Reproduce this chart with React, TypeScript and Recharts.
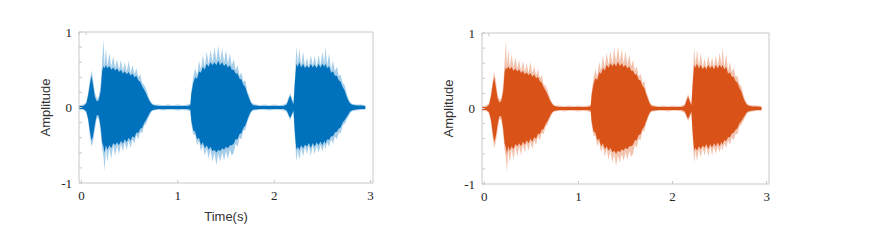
import { AreaChart, Area, XAxis, YAxis } from "recharts";

const TIME = [
  -0.025, 0.02, 0.05, 0.07, 0.09, 0.105, 0.12, 0.14, 0.16, 0.18,
  0.2, 0.215, 0.23, 0.24, 0.255, 0.27, 0.29, 0.31, 0.33, 0.35,
  0.37, 0.39, 0.41, 0.43, 0.45, 0.47, 0.49, 0.51, 0.53, 0.55,
  0.57, 0.59, 0.61, 0.63, 0.65, 0.67, 0.69, 0.71, 0.73, 0.75,
  0.8, 0.85, 0.9, 0.95, 1.0, 1.05, 1.1, 1.13, 1.14, 1.16,
  1.18, 1.2, 1.22, 1.24, 1.26, 1.28, 1.3, 1.32, 1.34, 1.36,
  1.38, 1.4, 1.42, 1.44, 1.46, 1.48, 1.5, 1.52, 1.54, 1.56,
  1.58, 1.6, 1.62, 1.64, 1.66, 1.68, 1.7, 1.72, 1.74, 1.76,
  1.78, 1.85, 1.9, 1.95, 2.0, 2.05, 2.1, 2.13, 2.15, 2.165,
  2.18, 2.2, 2.215, 2.23, 2.245, 2.26, 2.28, 2.3, 2.32, 2.34,
  2.36, 2.38, 2.4, 2.42, 2.44, 2.46, 2.48, 2.5, 2.52, 2.53,
  2.55, 2.57, 2.59, 2.61, 2.63, 2.65, 2.67, 2.69, 2.71, 2.73,
  2.75, 2.77, 2.79, 2.81, 2.85, 2.9, 2.945,
];

// outer (light) spikes of the waveform
const PEAK_HI = [
  0.03, 0.04, 0.07, 0.2, 0.38, 0.49, 0.38, 0.2, 0.12, 0.14,
  0.3, 0.62, 0.9, 0.56, 0.78, 0.55, 0.72, 0.54, 0.68, 0.53,
  0.64, 0.5, 0.63, 0.49, 0.6, 0.47, 0.62, 0.46, 0.56, 0.44,
  0.52, 0.4, 0.44, 0.32, 0.3, 0.25, 0.17, 0.1, 0.06, 0.04,
  0.04, 0.03, 0.04, 0.03, 0.04, 0.03, 0.04, 0.05, 0.22, 0.4,
  0.52, 0.42, 0.62, 0.5, 0.7, 0.54, 0.74, 0.58, 0.76, 0.6,
  0.8, 0.62, 0.82, 0.62, 0.78, 0.6, 0.76, 0.58, 0.72, 0.56,
  0.64, 0.5, 0.56, 0.42, 0.46, 0.34, 0.36, 0.22, 0.16, 0.08,
  0.05, 0.03, 0.04, 0.03, 0.04, 0.03, 0.04, 0.06, 0.14, 0.19,
  0.14, 0.05, 0.4, 0.81, 0.58, 0.78, 0.56, 0.74, 0.54, 0.66,
  0.54, 0.7, 0.56, 0.68, 0.54, 0.7, 0.56, 0.74, 0.58, 0.81,
  0.56, 0.72, 0.5, 0.62, 0.48, 0.54, 0.42, 0.43, 0.32, 0.3,
  0.2, 0.12, 0.07, 0.05, 0.04, 0.04, 0.03,
];

const PEAK_LO = [
  -0.03, -0.03, -0.07, -0.18, -0.4, -0.52, -0.46, -0.3, -0.14, -0.15,
  -0.34, -0.55, -0.66, -0.84, -0.55, -0.72, -0.54, -0.68, -0.5, -0.64,
  -0.5, -0.62, -0.48, -0.58, -0.46, -0.56, -0.44, -0.54, -0.42, -0.48,
  -0.36, -0.42, -0.32, -0.34, -0.24, -0.22, -0.15, -0.1, -0.05, -0.04,
  -0.03, -0.04, -0.03, -0.03, -0.04, -0.03, -0.04, -0.05, -0.22, -0.36,
  -0.36, -0.5, -0.44, -0.58, -0.5, -0.64, -0.54, -0.68, -0.56, -0.72,
  -0.6, -0.76, -0.62, -0.72, -0.6, -0.7, -0.58, -0.68, -0.56, -0.64,
  -0.6, -0.48, -0.52, -0.4, -0.42, -0.3, -0.3, -0.2, -0.13, -0.07,
  -0.04, -0.03, -0.03, -0.04, -0.03, -0.03, -0.04, -0.06, -0.12, -0.17,
  -0.12, -0.06, -0.4, -0.72, -0.56, -0.7, -0.54, -0.65, -0.52, -0.62,
  -0.5, -0.64, -0.5, -0.62, -0.5, -0.6, -0.5, -0.58, -0.48, -0.56,
  -0.46, -0.52, -0.42, -0.48, -0.38, -0.42, -0.33, -0.34, -0.24, -0.22,
  -0.17, -0.12, -0.07, -0.05, -0.04, -0.03, -0.03,
];

// dense (solid) body of the waveform
const BODY_HI = [
  0.02, 0.02, 0.05, 0.16, 0.32, 0.42, 0.3, 0.14, 0.08, 0.1,
  0.22, 0.48, 0.55, 0.52, 0.56, 0.52, 0.55, 0.5, 0.53, 0.49,
  0.52, 0.47, 0.5, 0.45, 0.48, 0.44, 0.47, 0.42, 0.45, 0.4,
  0.42, 0.36, 0.34, 0.28, 0.24, 0.19, 0.13, 0.08, 0.045, 0.03,
  0.02, 0.02, 0.02, 0.02, 0.02, 0.02, 0.02, 0.03, 0.18, 0.32,
  0.4, 0.38, 0.48, 0.46, 0.54, 0.5, 0.58, 0.54, 0.6, 0.56,
  0.6, 0.56, 0.62, 0.56, 0.6, 0.55, 0.58, 0.53, 0.56, 0.5,
  0.5, 0.45, 0.45, 0.38, 0.37, 0.3, 0.27, 0.19, 0.12, 0.06,
  0.03, 0.02, 0.02, 0.02, 0.02, 0.02, 0.02, 0.04, 0.11, 0.16,
  0.11, 0.04, 0.34, 0.58, 0.54, 0.6, 0.53, 0.58, 0.52, 0.56,
  0.52, 0.58, 0.53, 0.57, 0.52, 0.58, 0.53, 0.58, 0.54, 0.58,
  0.52, 0.55, 0.46, 0.48, 0.42, 0.42, 0.36, 0.34, 0.27, 0.23,
  0.15, 0.09, 0.05, 0.035, 0.025, 0.025, 0.02,
];

const BODY_LO = [
  -0.02, -0.02, -0.05, -0.15, -0.33, -0.44, -0.38, -0.22, -0.1, -0.11,
  -0.26, -0.46, -0.52, -0.6, -0.5, -0.56, -0.5, -0.54, -0.47, -0.5,
  -0.46, -0.5, -0.44, -0.48, -0.42, -0.46, -0.4, -0.44, -0.38, -0.4,
  -0.33, -0.34, -0.28, -0.27, -0.21, -0.17, -0.12, -0.07, -0.04, -0.03,
  -0.02, -0.02, -0.02, -0.02, -0.02, -0.02, -0.02, -0.03, -0.17, -0.3,
  -0.32, -0.42, -0.4, -0.5, -0.46, -0.54, -0.5, -0.56, -0.52, -0.58,
  -0.56, -0.6, -0.56, -0.58, -0.54, -0.56, -0.52, -0.54, -0.5, -0.5,
  -0.48, -0.42, -0.42, -0.35, -0.34, -0.27, -0.24, -0.17, -0.1, -0.05,
  -0.03, -0.02, -0.02, -0.02, -0.02, -0.02, -0.02, -0.04, -0.1, -0.14,
  -0.1, -0.04, -0.34, -0.56, -0.52, -0.56, -0.5, -0.54, -0.49, -0.52,
  -0.47, -0.54, -0.47, -0.52, -0.46, -0.5, -0.45, -0.5, -0.44, -0.48,
  -0.42, -0.43, -0.38, -0.38, -0.33, -0.32, -0.28, -0.26, -0.2, -0.17,
  -0.13, -0.09, -0.05, -0.035, -0.025, -0.02, -0.02,
];

const X_TICKS = [0, 1, 2, 3];
const Y_TICKS = [-1, -0.8, -0.6, -0.4, -0.2, 0, 0.2, 0.4, 0.6, 0.8, 1];

const data = TIME.map((t, i) => ({
  t,
  peak: [PEAK_LO[i], PEAK_HI[i]],
  body: [BODY_LO[i], BODY_HI[i]],
}));

const BOX = "#c8c8c8";
const tickFont = { fontFamily: "Liberation Serif", fontSize: 13, fill: "#262626" };
const labelFont = { fontFamily: "Liberation Sans", fontSize: 13, fill: "#333333" };
const intLabel = (v: number) => (Number.isInteger(v) ? String(v) : "");
const blank = () => "";

interface PanelProps {
  color: string;
  width: number;
  height: number;
  timeLabel?: boolean;
}

function Waveform({ color, width, height, timeLabel }: PanelProps) {
  return (
    <AreaChart
      width={width}
      height={height}
      data={data}
      margin={{ top: 31, right: 26, bottom: height - 203, left: 39 }}
    >
      <XAxis
        dataKey="t"
        type="number"
        domain={[-0.025, 3.025]}
        ticks={X_TICKS}
        allowDataOverflow
        height={20}
        tickSize={-3}
        tickMargin={11}
        axisLine={{ stroke: BOX }}
        tickLine={{ stroke: BOX }}
        tick={tickFont}
        label={
          timeLabel
            ? { value: "Time(s)", position: "insideBottom", offset: -18, style: labelFont }
            : undefined
        }
      />
      <XAxis
        xAxisId="top"
        orientation="top"
        type="number"
        domain={[-0.025, 3.025]}
        ticks={X_TICKS}
        allowDataOverflow
        height={1}
        tickSize={-3}
        tickFormatter={blank}
        axisLine={{ stroke: BOX }}
        tickLine={{ stroke: BOX }}
      />
      <YAxis
        type="number"
        domain={[-1, 1]}
        ticks={Y_TICKS}
        interval={0}
        width={40}
        tickSize={-3}
        tickMargin={10}
        tickFormatter={intLabel}
        axisLine={{ stroke: BOX }}
        tickLine={{ stroke: BOX }}
        tick={tickFont}
        label={{
          value: "Amplitude",
          angle: -90,
          position: "insideLeft",
          offset: 6,
          style: { ...labelFont, textAnchor: "middle" },
        }}
      />
      <YAxis
        yAxisId="r"
        orientation="right"
        type="number"
        domain={[-1, 1]}
        ticks={Y_TICKS}
        interval={0}
        width={1}
        tickSize={-3}
        tickFormatter={blank}
        axisLine={{ stroke: BOX }}
        tickLine={{ stroke: BOX }}
      />
      <Area
        dataKey="peak"
        type="linear"
        stroke="none"
        fill={color}
        fillOpacity={0.35}
        dot={false}
        activeDot={false}
        isAnimationActive={false}
      />
      <Area
        dataKey="body"
        type="linear"
        stroke="none"
        fill={color}
        fillOpacity={1}
        dot={false}
        activeDot={false}
        isAnimationActive={false}
      />
    </AreaChart>
  );
}

export default function App() {
  return (
    <div
      style={{
        position: "absolute",
        left: 0,
        top: 0,
        width: 883,
        height: 249,
        background: "#fff",
      }}
    >
      <div style={{ position: "absolute", left: 0, top: 0 }}>
        <Waveform color="#0072BD" width={400} height={240} timeLabel />
      </div>
      <div style={{ position: "absolute", left: 403, top: 1 }}>
        <Waveform color="#D95319" width={393} height={239} />
      </div>
    </div>
  );
}
